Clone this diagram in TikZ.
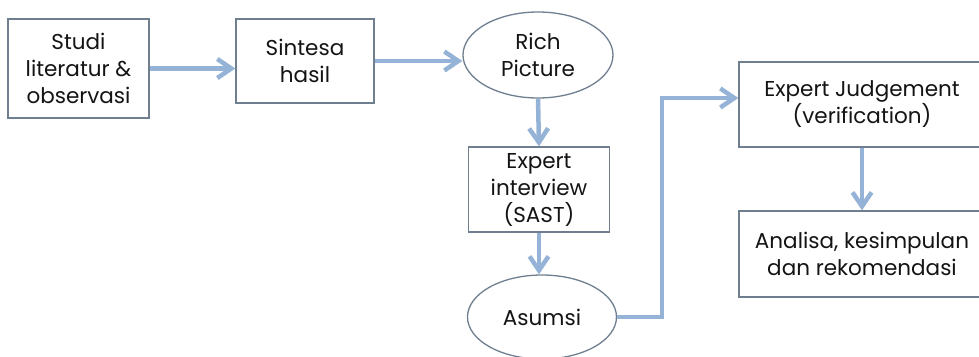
\documentclass[tikz,border=0pt]{standalone}
\usepackage{fontspec}
\setmainfont{Poppins}
\usetikzlibrary{arrows.meta,shapes.geometric}
\definecolor{flowblue}{HTML}{95B3D7}
\definecolor{boxgray}{HTML}{6F7F8F}
\definecolor{textgray}{HTML}{141414}

\begin{document}
\begin{tikzpicture}[x=1pt, y=-1pt,
    box/.style={draw=boxgray, line width=1.3pt, fill=white, text=textgray,
	align=center, inner sep=0pt, font=\fontsize{21.5}{27}\selectfont},
    oval/.style={box, ellipse},
    flow/.style={draw=flowblue, line width=4.5pt,
	-{Straight Barb[length=14pt, width=19pt]}}]
    \useasboundingbox (0, 0) rectangle (979, 356);

    \node [box, minimum width=141, minimum height=99] (studi) at (78.5, 68.5)
	{Studi\\literatur \&\\observasi};
    \node [box, minimum width=138, minimum height=84] (sintesa) at (305, 61)
	{Sintesa\\hasil};
    \node [oval, minimum width=150, minimum height=86] (rich) at (538, 55)
	{Rich\\Picture};
    \node [box, minimum width=141, minimum height=85] (interview) at (539, 189.5)
	{Expert\\interview\\(SAST)};
    \node [oval, minimum width=149, minimum height=84] (asumsi) at (542, 317)
	{Asumsi};
    \node [box, minimum width=246, minimum height=85] (judge) at (862, 104.5)
	{Expert Judgement\\(verification)};
    \node [box, minimum width=246, minimum height=86] (analisa) at (862, 254)
	{Analisa, kesimpulan\\dan rekomendasi};

    \draw [flow] (studi.east) -- (studi.east -| sintesa.west);
    \draw [flow] (sintesa.east) -- (sintesa.east -| rich.west);
    \draw [flow] (rich.south) -- (interview.north);
    \draw [flow] (interview.south) -- (interview.south |- asumsi.north);
    \draw [flow] (asumsi.east) -- ++(45, 0) |- ([yshift=6.5pt]judge.west);
    \draw [flow] (judge.south) -- (analisa.north);
\end{tikzpicture}
\end{document}
